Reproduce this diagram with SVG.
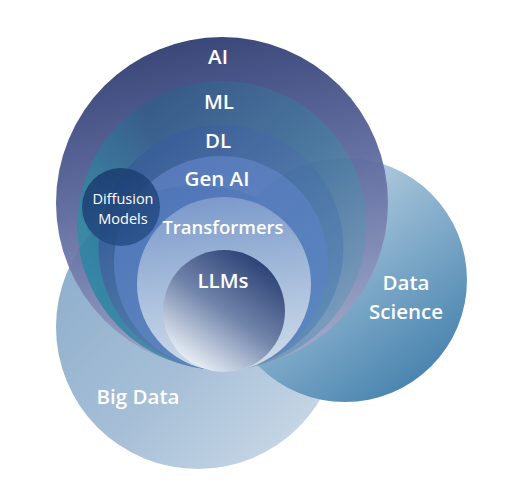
<svg xmlns="http://www.w3.org/2000/svg" width="511" height="488" viewBox="0 0 511 488">
<defs>
<style>
text{font-family:"Open Sans","Noto Sans","Liberation Sans",sans-serif;fill:#ffffff;text-anchor:middle;font-weight:600}
.lg{font-size:20.5px}
.sm{font-size:14.5px;font-weight:500}
</style>
<linearGradient id="gBig" x1="0" y1="0" x2="1" y2="1">
<stop offset="0" stop-color="#86a9c8"/>
<stop offset="0.55" stop-color="#a6bfd7"/>
<stop offset="1" stop-color="#d3dfeb"/>
</linearGradient>
<linearGradient id="gDS" x1="0.2" y1="0.05" x2="0.85" y2="0.9">
<stop offset="0" stop-color="#cbdbe9"/>
<stop offset="0.5" stop-color="#88b0cd"/>
<stop offset="1" stop-color="#4783ae"/>
</linearGradient>
<linearGradient id="gAI" x1="0.45" y1="0" x2="0.65" y2="0.95">
<stop offset="0" stop-color="#2c3a70"/>
<stop offset="0.45" stop-color="#5a669c"/>
<stop offset="1" stop-color="#a2a7c8"/>
</linearGradient>
<linearGradient id="gML" x1="0.3" y1="0" x2="0.9" y2="0.8">
<stop offset="0" stop-color="#284d80"/>
<stop offset="0.5" stop-color="#3f6e98"/>
<stop offset="1" stop-color="#7899bb"/>
</linearGradient>
<linearGradient id="gML2" x1="0" y1="0.6" x2="0.35" y2="0.5">
<stop offset="0" stop-color="#2a8fa8" stop-opacity="0.75"/>
<stop offset="1" stop-color="#2a8fa8" stop-opacity="0"/>
</linearGradient>
<linearGradient id="gDL" x1="0.3" y1="0" x2="0.9" y2="0.8">
<stop offset="0" stop-color="#2a5290"/>
<stop offset="1" stop-color="#5c88b4"/>
</linearGradient>
<linearGradient id="gGen" x1="0.3" y1="0" x2="0.8" y2="1">
<stop offset="0" stop-color="#4b70b6"/>
<stop offset="1" stop-color="#5a86c0"/>
</linearGradient>
<linearGradient id="gTr" x1="0.4" y1="0" x2="0.5" y2="1">
<stop offset="0" stop-color="#7b99ca"/>
<stop offset="0.6" stop-color="#aec3de"/>
<stop offset="1" stop-color="#cfdbea"/>
</linearGradient>
<linearGradient id="gLLM" x1="0.85" y1="0.15" x2="0.3" y2="0.95">
<stop offset="0" stop-color="#2f4578"/>
<stop offset="0.5" stop-color="#7184aa"/>
<stop offset="1" stop-color="#e2e9f2"/>
</linearGradient>
<linearGradient id="gDif" x1="0.2" y1="0" x2="0.8" y2="1">
<stop offset="0" stop-color="#183a6c"/>
<stop offset="1" stop-color="#28508a"/>
</linearGradient>
</defs>

<g id="big-data">
<circle cx="198" cy="327" r="142" fill="url(#gBig)"/>
<text class="lg" x="138" y="404">Big Data</text>
</g>

<g id="data-science">
<circle cx="345" cy="280" r="122" fill="url(#gDS)"/>
<text class="lg" x="406" y="290">Data</text>
<text class="lg" x="406" y="319">Science</text>
</g>

<g id="ai-stack" opacity="0.93">
<g id="ai">
<circle cx="222" cy="203" r="166" fill="url(#gAI)"/>
</g>
<g id="ml">
<circle cx="222" cy="225.5" r="144.5" fill="url(#gML)"/>
<circle cx="222" cy="225.5" r="144.5" fill="url(#gML2)"/>
</g>
<g id="dl">
<circle cx="221" cy="247.5" r="122.5" fill="url(#gDL)"/>
</g>
<g id="gen-ai">
<circle cx="221" cy="263" r="107" fill="url(#gGen)"/>
</g>
</g>

<g id="diffusion-models">
<circle cx="121" cy="207" r="39" fill="url(#gDif)" opacity="0.85"/>
<text class="sm" x="123" y="204">Diffusion</text>
<text class="sm" x="123" y="224">Models</text>
</g>

<g id="transformers">
<circle cx="224" cy="284" r="87" fill="url(#gTr)"/>
</g>

<g id="llms">
<circle cx="224" cy="311" r="61" fill="url(#gLLM)"/>
<text class="lg" x="223" y="288">LLMs</text>
</g>

<g id="labels">
<text class="lg" x="218" y="64">AI</text>
<text class="lg" x="219" y="109">ML</text>
<text class="lg" x="218" y="148">DL</text>
<text class="lg" x="217" y="186">Gen AI</text>
<text class="lg" x="223" y="234" style="font-size:18.5px">Transformers</text>
</g>
</svg>
